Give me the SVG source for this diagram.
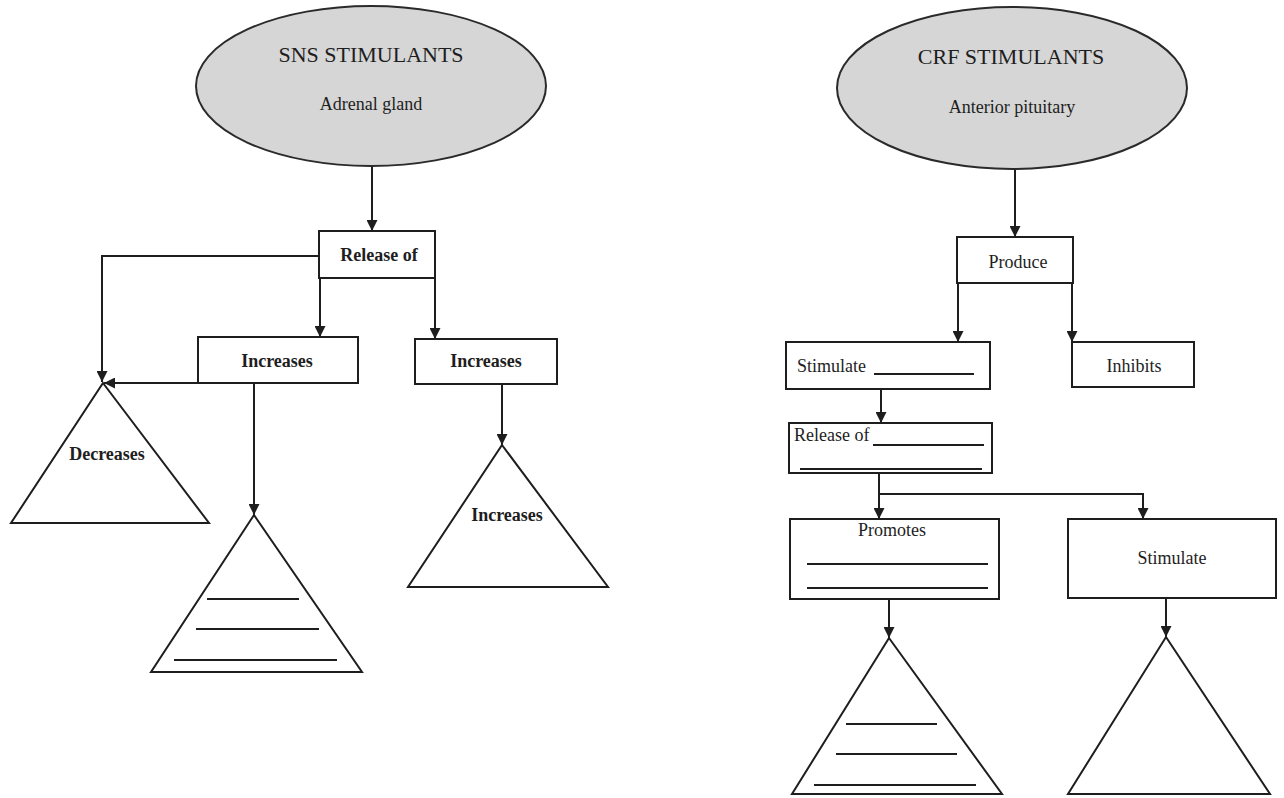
<svg xmlns="http://www.w3.org/2000/svg" width="1284" height="798" viewBox="0 0 1284 798">
  <style>
    .box { fill: #ffffff; stroke: #1e1e1e; stroke-width: 2; }
    .oval { fill: #d6d6d6; stroke: #2a2a2a; stroke-width: 2; }
    .tri { fill: #ffffff; stroke: #1e1e1e; stroke-width: 2; stroke-linejoin: miter; }
    .blank { stroke: #1e1e1e; stroke-width: 2; fill: none; }
    .wire { stroke: #1e1e1e; stroke-width: 2; fill: none; }
    .arrow { marker-end: url(#head); }
    .head { font-family: "Liberation Serif", "Times New Roman", serif; font-size: 22px; fill: #1e1e1e; text-anchor: middle; }
    .sub { font-family: "Liberation Serif", "Times New Roman", serif; font-size: 18px; fill: #1e1e1e; text-anchor: middle; }
    .lbl { font-family: "Liberation Serif", "Times New Roman", serif; font-size: 18px; fill: #1e1e1e; }
    .bold { font-weight: bold; text-anchor: middle; }
    .mid { text-anchor: middle; }
  </style>
  <defs>
    <marker id="head" viewBox="0 0 10 10" refX="10" refY="5" markerUnits="userSpaceOnUse" markerWidth="11" markerHeight="11" orient="auto">
      <path d="M0,0 L10,5 L0,10 z" fill="#1e1e1e"/>
    </marker>
  </defs>

  <rect width="1284" height="798" fill="#ffffff"/>

  <!-- connectors -->
  <g id="connectors">
    <!-- SNS branch -->
    <path class="wire arrow" d="M372,166 V231"/>
    <path class="wire arrow" d="M319,256 H102 V382"/>
    <path class="wire arrow" d="M320,278 V337"/>
    <path class="wire arrow" d="M435,278 V339"/>
    <path class="wire arrow" d="M198,383 H104"/>
    <path class="wire arrow" d="M254,383 V515"/>
    <path class="wire arrow" d="M502,384 V445"/>
    <!-- CRF branch -->
    <path class="wire arrow" d="M1015,169 V237"/>
    <path class="wire arrow" d="M958,283 V342"/>
    <path class="wire arrow" d="M1072,283 V342"/>
    <path class="wire arrow" d="M881,389 V423"/>
    <path class="wire arrow" d="M879,473 V519"/>
    <path class="wire arrow" d="M879,494 H1143 V519"/>
    <path class="wire arrow" d="M889,599 V638"/>
    <path class="wire arrow" d="M1166,598 V637"/>
  </g>

  <!-- SNS side -->
  <g id="sns-stimulants">
    <ellipse class="oval" cx="371" cy="86" rx="175" ry="80"/>
    <text class="head" x="371" y="62">SNS STIMULANTS</text>
    <text class="sub" x="371" y="110">Adrenal gland</text>
  </g>

  <g id="sns-release">
    <rect class="box" x="319" y="231" width="116" height="47"/>
    <text class="lbl bold" x="379" y="261">Release of</text>
  </g>

  <g id="sns-increases-a">
    <rect class="box" x="198" y="337" width="160" height="46"/>
    <text class="lbl bold" x="277" y="367">Increases</text>
  </g>

  <g id="sns-increases-b">
    <rect class="box" x="415" y="339" width="142" height="45"/>
    <text class="lbl bold" x="486" y="367">Increases</text>
  </g>

  <g id="sns-decreases">
    <polygon class="tri" points="103,383 209,523 11,523"/>
    <text class="lbl bold" x="107" y="460">Decreases</text>
  </g>

  <g id="sns-list">
    <polygon class="tri" points="254,515 362,672 151,672"/>
    <line class="blank" x1="207" y1="599" x2="299" y2="599"/>
    <line class="blank" x1="196" y1="629" x2="319" y2="629"/>
    <line class="blank" x1="174" y1="660" x2="337" y2="660"/>
  </g>

  <g id="sns-increases-c">
    <polygon class="tri" points="502,445 608,587 408,587"/>
    <text class="lbl bold" x="507" y="521">Increases</text>
  </g>

  <!-- CRF side -->
  <g id="crf-stimulants">
    <ellipse class="oval" cx="1012" cy="88" rx="175" ry="81"/>
    <text class="head" x="1011" y="64">CRF STIMULANTS</text>
    <text class="sub" x="1012" y="113">Anterior pituitary</text>
  </g>

  <g id="crf-produce">
    <rect class="box" x="957" y="237" width="116" height="46"/>
    <text class="lbl mid" x="1018" y="268">Produce</text>
  </g>

  <g id="crf-stimulate-a">
    <rect class="box" x="786" y="342" width="204" height="47"/>
    <text class="lbl" x="797" y="372">Stimulate</text>
    <line class="blank" x1="874" y1="374" x2="974" y2="374"/>
  </g>

  <g id="crf-inhibits">
    <rect class="box" x="1072" y="342" width="122" height="45"/>
    <text class="lbl mid" x="1134" y="372">Inhibits</text>
  </g>

  <g id="crf-release">
    <rect class="box" x="789" y="423" width="203" height="50"/>
    <text class="lbl" x="794" y="441">Release of</text>
    <line class="blank" x1="873" y1="445" x2="984" y2="445"/>
    <line class="blank" x1="800" y1="469" x2="982" y2="469"/>
  </g>

  <g id="crf-promotes">
    <rect class="box" x="790" y="519" width="209" height="80"/>
    <text class="lbl mid" x="892" y="536">Promotes</text>
    <line class="blank" x1="807" y1="564" x2="988" y2="564"/>
    <line class="blank" x1="807" y1="588" x2="988" y2="588"/>
  </g>

  <g id="crf-stimulate-b">
    <rect class="box" x="1068" y="519" width="208" height="79"/>
    <text class="lbl mid" x="1172" y="564">Stimulate</text>
  </g>

  <g id="crf-list">
    <polygon class="tri" points="889,638 1002,794 792,794"/>
    <line class="blank" x1="846" y1="724" x2="937" y2="724"/>
    <line class="blank" x1="836" y1="754" x2="957" y2="754"/>
    <line class="blank" x1="814" y1="785" x2="976" y2="785"/>
  </g>

  <g id="crf-outcome">
    <polygon class="tri" points="1166,637 1270,794 1068,794"/>
  </g>
</svg>
